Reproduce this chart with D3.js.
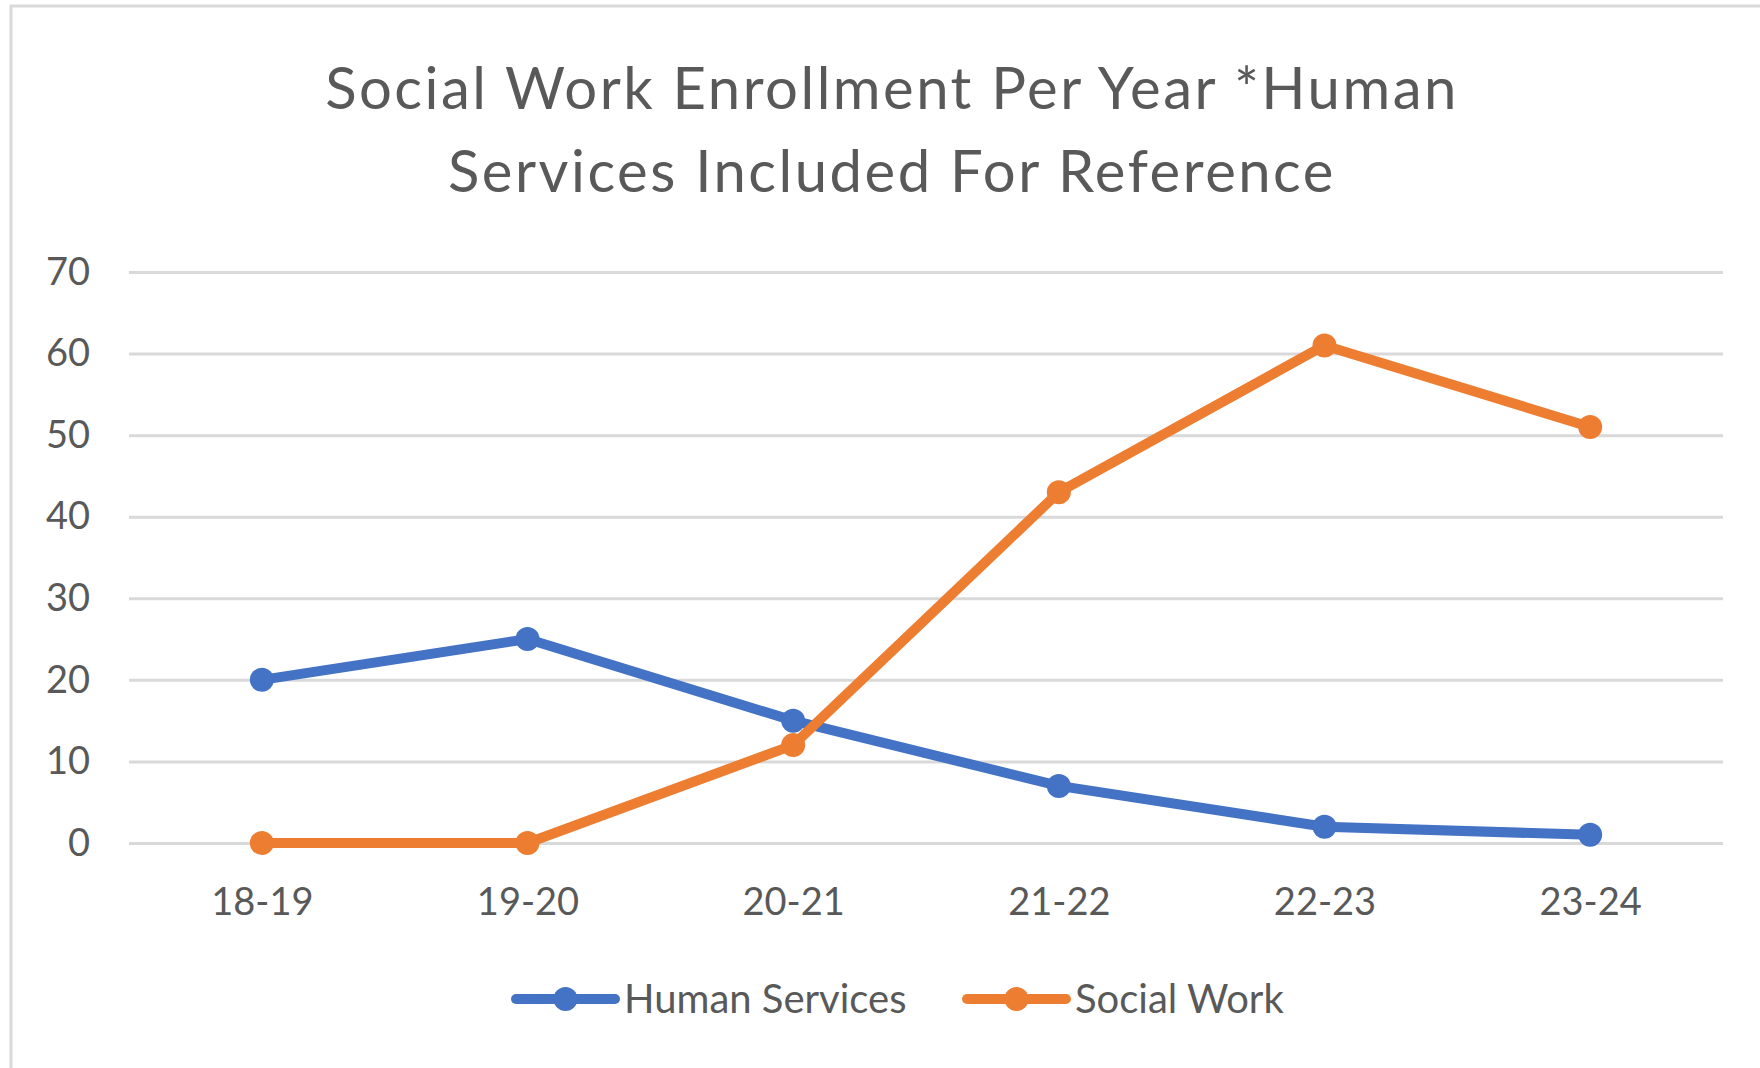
<!DOCTYPE html>
<html>
<head>
<meta charset="utf-8">
<script src="https://cdn.jsdelivr.net/npm/d3@7"></script>
<style>
  body { margin: 0; background: #fff; }
  text { font-family: Lato, "Open Sans", sans-serif; fill: #595959; }
</style>
</head>
<body>
<div id="chart-area"></div>
<script>
// chart data
var years = ["18-19", "19-20", "20-21", "21-22", "22-23", "23-24"];
var humanServices = [20, 25, 15, 7, 2, 1];
var socialWork = [0, 0, 12, 43, 61, 51];
var yTicks = [0, 10, 20, 30, 40, 50, 60, 70];
var titleLines = ["Social Work Enrollment Per Year *Human", "Services Included For Reference"];

var series = [
    { name: "Human Services", values: humanServices, color: "#4472c4" },
    { name: "Social Work", values: socialWork, color: "#ed7d31" }
];

var W = 1760, H = 1068;
var margin = { left: 129, right: 37, top: 272, bottom: 225 };
var width = W - margin.left - margin.right,
    height = H - margin.top - margin.bottom;

var svg = d3.select("#chart-area").append("svg")
    .attr("width", W)
    .attr("height", H);

// chart area border
svg.append("rect")
    .attr("x", 11).attr("y", 6)
    .attr("width", W).attr("height", H)
    .attr("fill", "none")
    .attr("stroke", "#d9d9d9")
    .attr("stroke-width", 3);

// title
svg.append("g").selectAll("text")
    .data(titleLines)
    .enter().append("text")
    .attr("x", 892)
    .attr("y", function(d, i) { return 109 + i * 83; })
    .attr("text-anchor", "middle")
    .attr("font-size", "58px")
    .style("letter-spacing", "2.5px")
    .text(function(d) { return d; });

var g = svg.append("g")
    .attr("transform", "translate(" + margin.left + "," + margin.top + ")");

// scales
var x = d3.scalePoint().domain(years).range([0, width]).padding(0.5);
var y = d3.scaleLinear().domain([0, 70]).range([height, 0]);

// gridlines
var yAxisCall = d3.axisLeft(y).tickValues(yTicks).tickSize(-width).tickPadding(39);
var yAxis = g.append("g").attr("class", "y axis").call(yAxisCall);
yAxis.select(".domain").remove();
yAxis.selectAll("line").attr("stroke", "#d9d9d9").attr("stroke-width", 3);
yAxis.selectAll("text").attr("font-size", "38px").attr("fill", "#595959")
    .style("font-family", "Lato, sans-serif");

// x axis labels
var xAxisCall = d3.axisBottom(x).tickSize(0).tickPadding(45);
var xAxis = g.append("g").attr("class", "x axis")
    .attr("transform", "translate(0," + height + ")")
    .call(xAxisCall);
xAxis.select(".domain").remove();
xAxis.selectAll("text").attr("font-size", "38px").attr("fill", "#595959")
    .style("font-family", "Lato, sans-serif");

// lines
var line = d3.line()
    .x(function(d, i) { return x(years[i]); })
    .y(function(d) { return y(d); });

var sg = g.selectAll(".series")
    .data(series)
    .enter().append("g")
    .attr("class", "series");

sg.append("path")
    .attr("d", function(d) { return line(d.values); })
    .attr("fill", "none")
    .attr("stroke", function(d) { return d.color; })
    .attr("stroke-width", 10)
    .attr("stroke-linejoin", "round");

sg.selectAll("circle")
    .data(function(d) { return d.values.map(function(v, i) { return { v: v, i: i, color: d.color }; }); })
    .enter().append("circle")
    .attr("cx", function(d) { return x(years[d.i]); })
    .attr("cy", function(d) { return y(d.v); })
    .attr("r", 12)
    .attr("fill", function(d) { return d.color; });

// legend
var legendX = [516, 967];
var lg = svg.append("g").selectAll("g")
    .data(series)
    .enter().append("g")
    .attr("transform", function(d, i) { return "translate(" + legendX[i] + ",999)"; });

lg.append("line")
    .attr("x1", 0).attr("x2", 99)
    .attr("stroke", function(d) { return d.color; })
    .attr("stroke-width", 10)
    .attr("stroke-linecap", "round");
lg.append("circle")
    .attr("cx", 49.5).attr("r", 12)
    .attr("fill", function(d) { return d.color; });
lg.append("text")
    .attr("x", 108)
    .attr("dy", "0.35em")
    .attr("font-size", "40px")
    .text(function(d) { return d.name; });
</script>
</body>
</html>
